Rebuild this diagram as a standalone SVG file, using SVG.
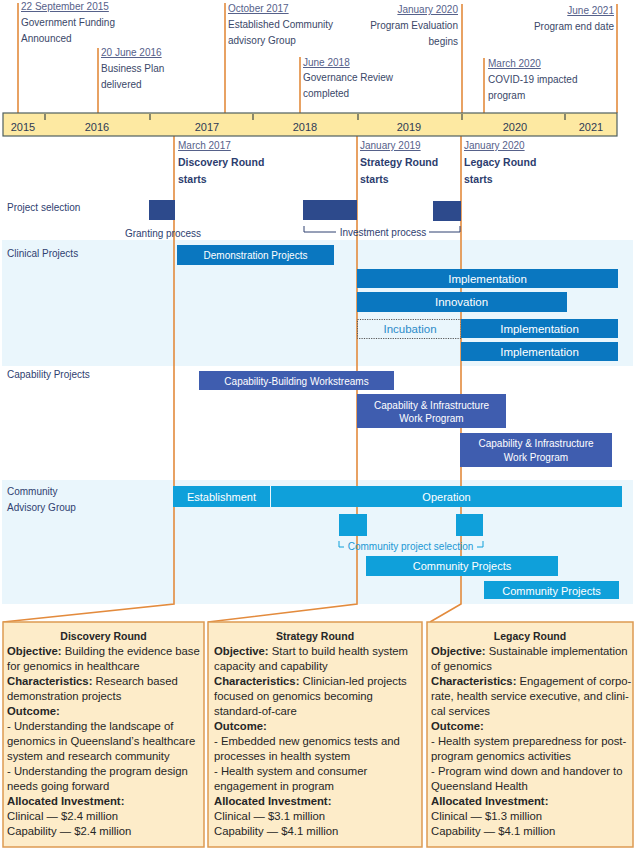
<svg xmlns="http://www.w3.org/2000/svg" width="637" height="850" viewBox="0 0 637 850">
<style>
text{font-family:"Liberation Sans",Arial,sans-serif;}
.tl{font-size:10px;fill:#3a4768;}
.dt{font-size:10px;fill:#56618a;text-decoration:underline;}
.yr{font-size:11px;fill:#2f3b55;text-anchor:middle;}
.rl{font-size:10.5px;font-weight:bold;fill:#2c3d6e;}
.lab{font-size:10px;fill:#2f4170;}
.bt{font-size:10px;fill:#fff;text-anchor:middle;}
.bt2{font-size:11.5px;fill:#fff;text-anchor:middle;}
.bt3{font-size:11px;fill:#fff;text-anchor:middle;}
.clin{fill:#0a77c0;}
.cap{fill:#3f5daf;}
.sel{fill:#2d4a8c;}
.com{fill:#0fa0da;}
.ol{stroke:#e38b3d;stroke-width:1.6;fill:none;}
.box{fill:#fdecc9;stroke:#dd9a52;stroke-width:1.5;}
.bx{font-size:11.3px;fill:#262626;}
.bxt{font-size:10.5px;font-weight:bold;fill:#262626;text-anchor:middle;}
.b{font-weight:bold;}
.brk{stroke:#2f4170;stroke-width:1;fill:none;}
</style>

<!-- backgrounds -->
<rect x="2" y="240" width="631" height="126" fill="#eaf6fc"/>
<rect x="2" y="480" width="631" height="124" fill="#eaf6fc"/>

<!-- connectors: milestone & round lines -->
<g id="connectors">
<line class="ol" x1="18" y1="3" x2="18" y2="113"/>
<line class="ol" x1="98" y1="48" x2="98" y2="113"/>
<line class="ol" x1="225" y1="3" x2="225" y2="113"/>
<line class="ol" x1="300" y1="57" x2="300" y2="113"/>
<line class="ol" x1="462" y1="4" x2="462" y2="113"/>
<line class="ol" x1="484" y1="58" x2="484" y2="113"/>
<line class="ol" x1="617" y1="4" x2="617" y2="113"/>
<polyline class="ol" points="174,136 174,604 3,622"/>
<polyline class="ol" points="357,136 357,604 208,622"/>
<polyline class="ol" points="461,136 461,604 430,622"/>
</g>

<!-- timeline bar -->
<g id="timeline">
<rect x="3" y="113" width="614" height="23" fill="#fde9a2" stroke="#4f5f5f" stroke-width="1.2"/>
<g stroke="#3d4848" stroke-width="1.2">
<line x1="45" y1="114" x2="45" y2="120"/>
<line x1="150" y1="114" x2="150" y2="120"/>
<line x1="253" y1="114" x2="253" y2="120"/>
<line x1="358" y1="114" x2="358" y2="120"/>
<line x1="462" y1="114" x2="462" y2="120"/>
<line x1="565" y1="114" x2="565" y2="120"/>
</g>
<text class="yr" x="23" y="131">2015</text>
<text class="yr" x="97" y="131">2016</text>
<text class="yr" x="207" y="131">2017</text>
<text class="yr" x="305" y="131">2018</text>
<text class="yr" x="409" y="131">2019</text>
<text class="yr" x="515" y="131">2020</text>
<text class="yr" x="591" y="131">2021</text>
</g>

<!-- milestones -->
<g id="m2015">
<text class="dt" x="21" y="10">22 September 2015</text>
<text class="tl" x="21" y="26">Government Funding</text>
<text class="tl" x="21" y="42">Announced</text>
</g>
<g id="m2016">
<text class="dt" x="101" y="56">20 June 2016</text>
<text class="tl" x="101" y="72">Business Plan</text>
<text class="tl" x="101" y="88">delivered</text>
</g>
<g id="m2017">
<text class="dt" x="228" y="12">October 2017</text>
<text class="tl" x="228" y="28">Established Community</text>
<text class="tl" x="228" y="44">advisory Group</text>
</g>
<g id="m2018">
<text class="dt" x="303" y="66">June 2018</text>
<text class="tl" x="303" y="81">Governance Review</text>
<text class="tl" x="303" y="97">completed</text>
</g>
<g id="m2020a" text-anchor="end">
<text class="dt" x="458" y="13" text-anchor="end">January 2020</text>
<text class="tl" x="458" y="29" text-anchor="end">Program Evaluation</text>
<text class="tl" x="458" y="45" text-anchor="end">begins</text>
</g>
<g id="m2020b">
<text class="dt" x="488" y="67">March 2020</text>
<text class="tl" x="488" y="83">COVID-19 impacted</text>
<text class="tl" x="488" y="99">program</text>
</g>
<g id="m2021">
<text class="dt" x="614" y="14" text-anchor="end">June 2021</text>
<text class="tl" x="614" y="30" text-anchor="end">Program end date</text>
</g>

<!-- round labels -->
<g id="r-discovery">
<text class="dt" x="178" y="149">March 2017</text>
<text class="rl" x="178" y="166">Discovery Round</text>
<text class="rl" x="178" y="183">starts</text>
</g>
<g id="r-strategy">
<text class="dt" x="360" y="149">January 2019</text>
<text class="rl" x="360" y="166">Strategy Round</text>
<text class="rl" x="360" y="183">starts</text>
</g>
<g id="r-legacy">
<text class="dt" x="464" y="149">January 2020</text>
<text class="rl" x="464" y="166">Legacy Round</text>
<text class="rl" x="464" y="183">starts</text>
</g>

<!-- project selection -->
<g id="project-selection">
<text class="lab" x="7" y="211">Project selection</text>
<rect class="sel" x="149" y="200" width="26" height="20"/>
<rect class="sel" x="303" y="200" width="54" height="20"/>
<rect class="sel" x="433" y="201" width="28" height="20"/>
<text class="lab" x="163" y="237" text-anchor="middle">Granting process</text>
<polyline class="brk" points="304,226 304,232 336,232"/>
<polyline class="brk" points="429,232 460,232 460,226"/>
<text class="lab" x="383" y="236" text-anchor="middle">Investment process</text>
</g>

<!-- clinical projects -->
<g id="clinical">
<text class="lab" x="7" y="257">Clinical Projects</text>
<rect class="clin" x="177" y="245" width="157" height="20"/>
<text class="bt" x="255.5" y="259">Demonstration Projects</text>
<rect class="clin" x="357" y="269" width="261" height="19"/>
<text class="bt2" x="487.5" y="283">Implementation</text>
<rect class="clin" x="357" y="292" width="210" height="20"/>
<text class="bt2" x="461.5" y="306">Innovation</text>
<rect x="357.5" y="319.5" width="103.5" height="19" fill="none" stroke="#555" stroke-width="1" stroke-dasharray="1.2 1.2"/>
<text x="410" y="333" font-size="11.5" fill="#2a8bc9" text-anchor="middle">Incubation</text>
<rect class="clin" x="461" y="319" width="157" height="19"/>
<text class="bt2" x="539.5" y="332.5">Implementation</text>
<rect class="clin" x="461" y="342" width="157" height="19"/>
<text class="bt2" x="539.5" y="356">Implementation</text>
</g>

<!-- capability projects -->
<g id="capability">
<text class="lab" x="7" y="378">Capability Projects</text>
<rect class="cap" x="199" y="371" width="195" height="19"/>
<text class="bt" x="296.5" y="384.5">Capability-Building Workstreams</text>
<rect class="cap" x="357" y="394" width="149" height="34"/>
<text class="bt" x="431.5" y="408.5" font-size="10.3">Capability &amp; Infrastructure</text>
<text class="bt" x="431.5" y="422" font-size="10.3">Work Program</text>
<rect class="cap" x="460" y="433" width="152" height="34"/>
<text class="bt" x="536" y="447" font-size="10.3">Capability &amp; Infrastructure</text>
<text class="bt" x="536" y="460.5" font-size="10.3">Work Program</text>
</g>

<!-- community advisory group -->
<g id="community">
<text class="lab" x="7" y="495">Community</text>
<text class="lab" x="7" y="511">Advisory Group</text>
<rect class="com" x="173" y="486" width="97" height="21"/>
<text class="bt3" x="221.5" y="500.5">Establishment</text>
<rect class="com" x="271" y="486" width="351" height="21"/>
<text class="bt3" x="446.5" y="500.5">Operation</text>
<rect class="com" x="339" y="514" width="28" height="22"/>
<rect class="com" x="456" y="514" width="27" height="22"/>
<polyline points="339,541 339,547 344,547" stroke="#0fa0da" stroke-width="1" fill="none"/>
<polyline points="477,547 483,547 483,541" stroke="#0fa0da" stroke-width="1" fill="none"/>
<text x="410.5" y="550" font-size="10" fill="#1a98d4" text-anchor="middle">Community project selection</text>
<rect class="com" x="366" y="556" width="192" height="20"/>
<text class="bt3" x="462" y="570">Community Projects</text>
<rect class="com" x="484" y="581" width="135" height="18"/>
<text class="bt3" x="551.5" y="594.5">Community Projects</text>
</g>

<!-- round boxes -->
<g id="box-discovery">
<rect class="box" x="3" y="622" width="201" height="225"/>
<text class="bxt" x="103.5" y="640">Discovery Round</text>
<text class="bx" x="7" y="655"><tspan class="b">Objective:</tspan> Building the evidence base</text>
<text class="bx" x="7" y="670">for genomics in healthcare</text>
<text class="bx" x="7" y="685"><tspan class="b">Characteristics:</tspan> Research based</text>
<text class="bx" x="7" y="700">demonstration projects</text>
<text class="bx b" x="7" y="715">Outcome:</text>
<text class="bx" x="7" y="730">- Understanding the landscape of</text>
<text class="bx" x="7" y="745">genomics in Queensland’s healthcare</text>
<text class="bx" x="7" y="760">system and research community</text>
<text class="bx" x="7" y="775">- Understanding the program design</text>
<text class="bx" x="7" y="790">needs going forward</text>
<text class="bx b" x="7" y="805">Allocated Investment:</text>
<text class="bx" x="7" y="820">Clinical — $2.4 million</text>
<text class="bx" x="7" y="835">Capability — $2.4 million</text>
</g>
<g id="box-strategy">
<rect class="box" x="208" y="622" width="214" height="225"/>
<text class="bxt" x="315" y="640">Strategy Round</text>
<text class="bx" x="214" y="655"><tspan class="b">Objective:</tspan> Start to build health system</text>
<text class="bx" x="214" y="670">capacity and capability</text>
<text class="bx" x="214" y="685"><tspan class="b">Characteristics:</tspan> Clinician-led projects</text>
<text class="bx" x="214" y="700">focused on genomics becoming</text>
<text class="bx" x="214" y="715">standard-of-care</text>
<text class="bx b" x="214" y="730">Outcome:</text>
<text class="bx" x="214" y="745">- Embedded new genomics tests and</text>
<text class="bx" x="214" y="760">processes in health system</text>
<text class="bx" x="214" y="775">- Health system and consumer</text>
<text class="bx" x="214" y="790">engagement in program</text>
<text class="bx b" x="214" y="805">Allocated Investment:</text>
<text class="bx" x="214" y="820">Clinical — $3.1 million</text>
<text class="bx" x="214" y="835">Capability — $4.1 million</text>
</g>
<g id="box-legacy">
<rect class="box" x="427" y="622" width="206" height="225"/>
<text class="bxt" x="530" y="640">Legacy Round</text>
<text class="bx" x="431" y="655"><tspan class="b">Objective:</tspan> Sustainable implementation</text>
<text class="bx" x="431" y="670">of genomics</text>
<text class="bx" x="431" y="685"><tspan class="b">Characteristics:</tspan> Engagement of corpo-</text>
<text class="bx" x="431" y="700">rate, health service executive, and clini-</text>
<text class="bx" x="431" y="715">cal services</text>
<text class="bx b" x="431" y="730">Outcome:</text>
<text class="bx" x="431" y="745">- Health system preparedness for post-</text>
<text class="bx" x="431" y="760">program genomics activities</text>
<text class="bx" x="431" y="775">- Program wind down and handover to</text>
<text class="bx" x="431" y="790">Queensland Health</text>
<text class="bx b" x="431" y="805">Allocated Investment:</text>
<text class="bx" x="431" y="820">Clinical — $1.3 million</text>
<text class="bx" x="431" y="835">Capability — $4.1 million</text>
</g>
</svg>
